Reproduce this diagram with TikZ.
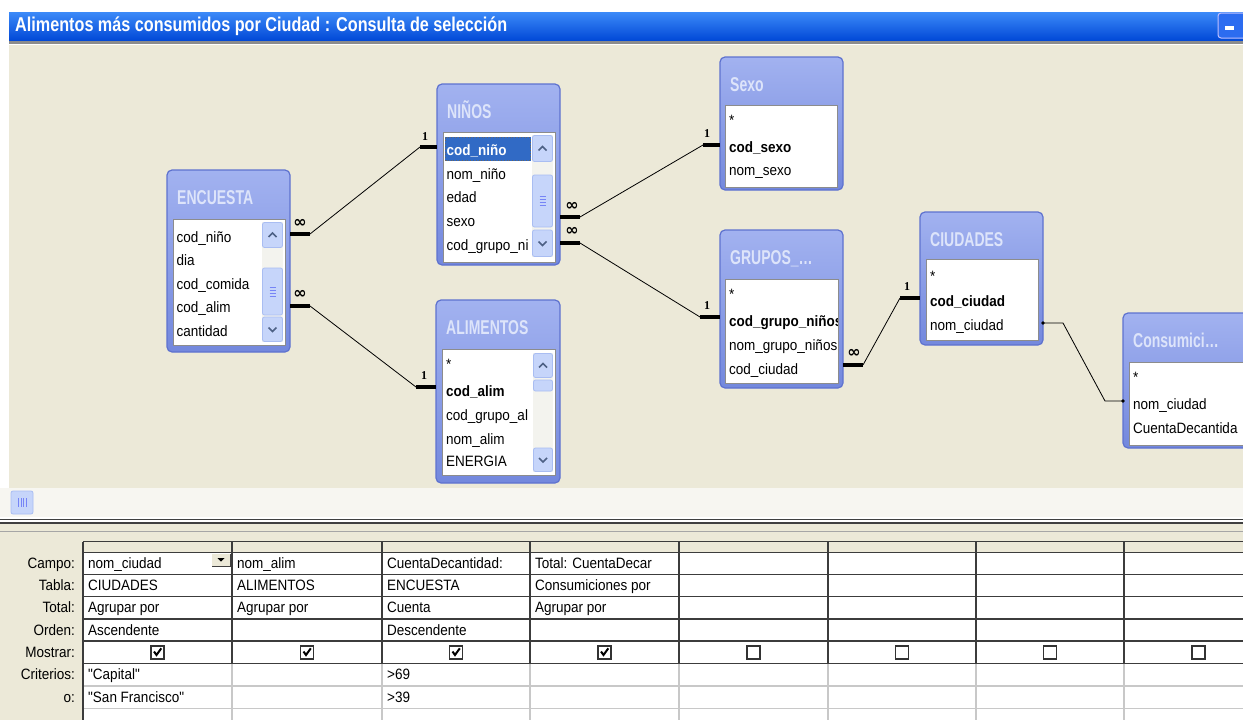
\documentclass[tikz,border=0pt]{standalone}
\usepackage{fontspec}
\setmainfont{Liberation Sans}
\newfontfamily\gfam{Liberation Sans}[FakeStretch=0.9]
\newfontfamily\tfam{Liberation Sans}[FakeStretch=0.7]
\newfontfamily\hfam{Liberation Sans}[FakeStretch=0.81]
\newfontfamily\serfam{Liberation Serif}
\newfontfamily\symfam{DejaVu Sans}
\usetikzlibrary{calc}
\newcommand\gridfs{\gfam\fontsize{15}{15}\selectfont}
\newcommand\tblfs{\tfam\bfseries\fontsize{20}{20}\selectfont}
\newcommand\barfs{\hfam\bfseries\fontsize{20}{20}\selectfont}
\newcommand\onefs{\serfam\bfseries\fontsize{12}{12}\selectfont}
\newcommand\symfs{\symfam\bfseries\fontsize{16}{16}\selectfont}
\definecolor{beige}{HTML}{ECE9D8}
\definecolor{xpT}{HTML}{3C8AF8}
\definecolor{xpM}{HTML}{0A5BEE}
\definecolor{xpB}{HTML}{0047D6}
\definecolor{xpBtn}{HTML}{2C6CF0}
\definecolor{tblA}{HTML}{A2B2F0}
\definecolor{tblB}{HTML}{7388DD}
\definecolor{tblBorder}{HTML}{5E72CF}
\definecolor{tblTitle}{HTML}{DDE4FA}
\definecolor{lbBorder}{HTML}{8C8C8C}
\definecolor{sbBtn}{HTML}{C6D5FA}
\definecolor{sbBtnBorder}{HTML}{A9BDF2}
\definecolor{sbArrow}{HTML}{4D6185}
\definecolor{sbTrack}{HTML}{F3F3EE}
\definecolor{selblue}{HTML}{316AC5}
\definecolor{gdarkc}{HTML}{3C3C3C}
\definecolor{glightc}{HTML}{C8C8C8}
\definecolor{stripc}{HTML}{F7F6F1}
\tikzset{
 tbl/.style={draw=tblBorder, line width=1.2pt, rounded corners=5pt, top color=tblA, bottom color=tblB, inner sep=0pt, outer sep=0pt, anchor=north west},
 tbltitle/.style={anchor=base west, inner sep=0pt, text=tblTitle, font=\tblfs},
 lbox/.style={draw=lbBorder, line width=1pt, fill=white, inner sep=0pt, outer sep=0pt, anchor=north west},
 item/.style={anchor=base west, inner sep=0pt, font=\gridfs},
 keyitem/.style={anchor=base west, inner sep=0pt, font=\gridfs\bfseries},
 thickend/.style={line width=3.5pt},
 rel/.style={line width=0.8pt},
 manylab/.style={inner sep=0pt, font=\symfs},
 onelab/.style={inner sep=0pt, font=\onefs},
 cell/.style={anchor=base west, inner sep=0pt, font=\gridfs},
 rowlab/.style={anchor=base east, inner sep=0pt, font=\gridfs},
 sbbtn/.style={fill=sbBtn, draw=sbBtnBorder, line width=0.8pt, rounded corners=2pt},
 chev/.style={draw=sbArrow, line width=1.6pt},
 gripc/.style={draw=sbBtnBorder!70!blue, line width=0.7pt},
 gdark/.style={draw=gdarkc, line width=1.5pt},
 glight/.style={draw=glightc, line width=1.5pt},
 cbox/.style={draw=black!80, line width=1.5pt, fill=white},
}
\newcommand\dbtable[6]{%
 \pgfmathsetmacro\dbw{#4-#2}\pgfmathsetmacro\dbh{#5-#3}%
 \node[tbl, minimum width=\dbw pt, minimum height=\dbh pt] (#1) at (#2,#3) {};%
 \node[tbltitle] (#1-t) at (#2+10,#3+34) {#6};}
\newcommand\listframe[5]{%
 \pgfmathsetmacro\dbw{#4-#2}\pgfmathsetmacro\dbh{#5-#3}%
 \node[lbox, minimum width=\dbw pt, minimum height=\dbh pt] (#1) at (#2,#3) {};}
\newcommand\vscroll[9]{%
 \pgfmathsetmacro\scx{(#1+#2)/2}%
 \fill[sbTrack] (#1,#3) rectangle (#2,#8);
 \draw[sbbtn] (#1+0.5,#3+0.5) rectangle (#2-0.5,#4-0.5);
 \pgfmathsetmacro\scy{(#3+#4)/2}%
 \draw[chev] (\scx-4,\scy+2) -- (\scx,\scy-2) -- (\scx+4,\scy+2);
 \draw[sbbtn] (#1+0.5,#5) rectangle (#2-0.5,#6);
 \pgfmathsetmacro\scy{(#5+#6)/2}%
 \ifnum#9=1 \foreach \g in {-4.5,-1.5,1.5,4.5} {\draw[gripc] (\scx-3,\scy+\g) -- (\scx+3,\scy+\g);}\fi
 \draw[sbbtn] (#1+0.5,#7) rectangle (#2-0.5,#8-0.5);
 \pgfmathsetmacro\scy{(#7+#8)/2}%
 \draw[chev] (\scx-4,\scy-2) -- (\scx,\scy+2) -- (\scx+4,\scy-2);}
\begin{document}
\begin{tikzpicture}[x=1pt,y=-1pt]
\useasboundingbox (0,0) rectangle (1243,720);
\clip (0,0) rectangle (1243,720);
% backgrounds
\fill[white] (0,0) rectangle (1243,720);
\fill[beige] (9,45) rectangle (1243,488);
\shade[top color=xpT, middle color=xpM, bottom color=xpB] (9,12) rectangle (1243,41);
\fill[black!45] (9,41) rectangle (1243,44);
\node[anchor=base west, inner sep=0pt, text=white, font=\barfs] (bar) at (15,31) {Alimentos más consumidos por Ciudad : Consulta de selección};
\draw[fill=xpBtn, draw=white!75!blue, line width=1pt, rounded corners=3pt] (1218,13) rectangle (1252,38);
\fill[white] (1225,26) rectangle (1234,30);

% ---------- tables ----------
% ENCUESTA
\dbtable{enc}{167}{170}{290}{352}{ENCUESTA}
\listframe{encl}{173}{219}{285}{345}
\node[item] (enc1) at (176.5,242) {cod\_niño};
\node[item] (enc2) at (176.5,265.5) {dia};
\node[item] (enc3) at (176.5,289) {cod\_comida};
\node[item] (enc4) at (176.5,312.5) {cod\_alim};
\node[item] (enc5) at (176.5,336) {cantidad};
\vscroll{262}{283}{222}{248}{268}{315}{317}{342}{1}

% NIÑOS
\dbtable{nin}{437}{84}{560}{265}{NIÑOS}
\listframe{ninl}{443}{132}{555}{262}
\fill[selblue] (445,137) rectangle (531,161);
\draw[black!60, dotted, line width=0.8pt] (445.5,137.5) rectangle (530.5,160.5);
\node[keyitem, text=white] (nin1) at (446.5,155) {cod\_niño};
\node[item] (nin2) at (446.5,179) {nom\_niño};
\node[item] (nin3) at (446.5,202) {edad};
\node[item] (nin4) at (446.5,226) {sexo};
\node[item] (nin5) at (446.5,250) {cod\_grupo\_ni};
\vscroll{532}{553}{135}{162}{175}{227}{230}{257}{1}

% Sexo
\dbtable{sex}{720}{57}{843}{190}{Sexo}
\listframe{sexl}{725}{105}{837}{187}
\node[item] (sex1) at (729,125) {*};
\node[keyitem] (sex2) at (729,152) {cod\_sexo};
\node[item] (sex3) at (729,175) {nom\_sexo};

% GRUPOS
\dbtable{gru}{720}{230}{843}{388}{GRUPOS\_\ldots}
\listframe{grul}{725}{279}{838}{383}
\begin{scope}
\clip (725.5,279.5) rectangle (837.5,382.5);
\node[item] (gru1) at (729,299) {*};
\node[keyitem] (gru2) at (729,326) {cod\_grupo\_niños};
\node[item] (gru3) at (729,350) {nom\_grupo\_niños};
\node[item] (gru4) at (729,374) {cod\_ciudad};
\end{scope}

% CIUDADES
\dbtable{ciu}{920}{212}{1043}{345}{CIUDADES}
\listframe{ciul}{926}{259}{1038}{340}
\node[item] (ciu1) at (930,281) {*};
\node[keyitem] (ciu2) at (930,306) {cod\_ciudad};
\node[item] (ciu3) at (930,330.5) {nom\_ciudad};

% Consumici...
\dbtable{con}{1123}{313}{1262}{448}{Consumici\ldots}
\listframe{conl}{1129}{362}{1255}{445}
\node[item] (con1) at (1133,382) {*};
\node[item] (con2) at (1133,409) {nom\_ciudad};
\node[item] (con3) at (1133,433) {CuentaDecantida};

% ALIMENTOS
\dbtable{ali}{436}{300}{560}{483}{ALIMENTOS}
\listframe{alil}{442}{349}{555}{475}
\node[item] (ali1) at (446,369) {*};
\node[keyitem] (ali2) at (446,396) {cod\_alim};
\node[item] (ali3) at (446,420) {cod\_grupo\_al};
\node[item] (ali4) at (446,444) {nom\_alim};
\node[item] (ali5) at (446,466.5) {ENERGIA};
\vscroll{533}{553}{353}{378}{380}{391}{448}{472}{0}

% ---------- relations ----------
\coordinate (e1a) at (enc.east |- 0,234);
\coordinate (e1b) at (310,234);
\coordinate (n1b) at (420,147);
\coordinate (n1a) at (nin.west |- 0,147);
\draw[thickend] (e1a) -- (e1b);
\draw[rel] (e1b) -- (n1b);
\draw[thickend] (n1b) -- (n1a);
\node[manylab] (l1m) at (300,223) {∞};
\node[onelab] (l1o) at (425,137) {1};

\coordinate (e2a) at (enc.east |- 0,306);
\coordinate (e2b) at (310,306);
\coordinate (a2b) at (416,387);
\coordinate (a2a) at (ali.west |- 0,387);
\draw[thickend] (e2a) -- (e2b);
\draw[rel] (e2b) -- (a2b);
\draw[thickend] (a2b) -- (a2a);
\node[manylab] (l2m) at (300,294) {∞};
\node[onelab] (l2o) at (424,376) {1};

\coordinate (n3a) at (nin.east |- 0,217);
\coordinate (n3b) at (580,217);
\coordinate (s3b) at (703,145);
\coordinate (s3a) at (sex.west |- 0,145);
\draw[thickend] (n3a) -- (n3b);
\draw[rel] (n3b) -- (s3b);
\draw[thickend] (s3b) -- (s3a);
\node[manylab] (l3m) at (572,206) {∞};
\node[onelab] (l3o) at (707,134) {1};

\coordinate (n4a) at (nin.east |- 0,243);
\coordinate (n4b) at (580,243);
\coordinate (g4b) at (700,317);
\coordinate (g4a) at (gru.west |- 0,317);
\draw[thickend] (n4a) -- (n4b);
\draw[rel] (n4b) -- (g4b);
\draw[thickend] (g4b) -- (g4a);
\node[manylab] (l4m) at (572,231) {∞};
\node[onelab] (l4o) at (707,306) {1};

\coordinate (g5a) at (gru.east |- 0,365);
\coordinate (g5b) at (863,365);
\coordinate (c5b) at (900,298);
\coordinate (c5a) at (ciu.west |- 0,298);
\draw[thickend] (g5a) -- (g5b);
\draw[rel] (g5b) -- (c5b);
\draw[thickend] (c5b) -- (c5a);
\node[manylab] (l5m) at (854,353) {∞};
\node[onelab] (l5o) at (907,287) {1};

\coordinate (c6a) at (ciu.east |- 0,323);
\coordinate (c6b) at (1063,323);
\coordinate (k6b) at (1105,401);
\coordinate (k6a) at (con.west |- 0,401);
\draw[rel] (c6a) -- (c6b) -- (k6b) -- (k6a);
\fill (c6a) circle (1.8);
\fill (k6a) circle (1.8);

% ---------- splitter strip ----------
\fill[stripc] (0,488) rectangle (1243,517);
\draw[sbbtn] (11,491) rectangle (33,514);
\foreach \gx in {18.5,21,23.5,26} {\draw[gripc] (\gx,498) -- (\gx,507);}
\draw[black!75, line width=1.2pt] (0,519.5) -- (1243,519.5);
\draw[black!75, line width=1.2pt] (0,523) -- (1243,523);
\fill[beige] (0,524) rectangle (1243,720);
\draw[black!35, line width=0.8pt] (0,531) -- (1243,531);

% ---------- design grid ----------
\fill[white] (83,552.3) rectangle (1243,720);
\foreach \xx in {232,382,530,679,828,976,1124} {\draw[glight] (\xx,663.3) -- (\xx,720);}
\foreach \yy in {686,708.3} {\draw[glight] (83,\yy) -- (1243,\yy);}
\foreach \yy in {541.7,552.3,574.3,596.7,619,641,663.3} {\draw[gdark] (83,\yy) -- (1243,\yy);}
\foreach \xx in {232,382,530,679,828,976,1124} {\draw[gdark] (\xx,541.7) -- (\xx,663.3);}
\draw[gdark] (83,541.7) -- (83,720);

% row labels
\node[rowlab] (r1) at (75,568.3) {Campo:};
\node[rowlab] (r2) at (75,590.5) {Tabla:};
\node[rowlab] (r3) at (75,612.8) {Total:};
\node[rowlab] (r4) at (75,635) {Orden:};
\node[rowlab] (r5) at (75,657) {Mostrar:};
\node[rowlab] (r6) at (75,679.6) {Criterios:};
\node[rowlab] (r7) at (75,702.2) {o:};

% cells
\node[cell] (c11) at (88,568.3) {nom\_ciudad};
\fill[beige] (212,554) rectangle (230,566);
\draw[black!75, line width=1pt] (212,566.5) -- (230.5,566.5) -- (230.5,553.5);
\fill[black] (217.5,558) -- (224.5,558) -- (221,561.5) -- cycle;
\node[cell] (c12) at (237,568.3) {nom\_alim};
\node[cell] (c13) at (387,568.3) {CuentaDecantidad:};
\node[cell] (c14) at (535,568.3) {Total: CuentaDecar};
\node[cell] (c21) at (88,590.5) {CIUDADES};
\node[cell] (c22) at (237,590.5) {ALIMENTOS};
\node[cell] (c23) at (387,590.5) {ENCUESTA};
\begin{scope}
\clip (531,575) rectangle (654,596);
\node[cell] (c24) at (535,590.5) {Consumiciones por (};
\end{scope}
\node[cell] (c31) at (88,612.8) {Agrupar por};
\node[cell] (c32) at (237,612.8) {Agrupar por};
\node[cell] (c33) at (387,612.8) {Cuenta};
\node[cell] (c34) at (535,612.8) {Agrupar por};
\node[cell] (c41) at (88,635) {Ascendente};
\node[cell] (c43) at (387,635) {Descendente};
\node[cell] (c61) at (88,679.6) {"Capital"};
\node[cell] (c63) at (387,679.6) {>69};
\node[cell] (c71) at (88,702.2) {"San Francisco"};
\node[cell] (c73) at (387,702.2) {>39};

% checkboxes
\foreach \cx/\ck in {157.5/1,307/1,456/1,604.5/1,753.5/0,902/0,1050/0,1198.5/0} {
  \draw[cbox] (\cx-6.5,646) rectangle (\cx+6.5,659);
  \ifnum\ck=1 \draw[black, line width=2pt] (\cx-3.5,651.5) -- (\cx-1,655) -- (\cx+3.8,648.3); \fi
}
\end{tikzpicture}
\end{document}
